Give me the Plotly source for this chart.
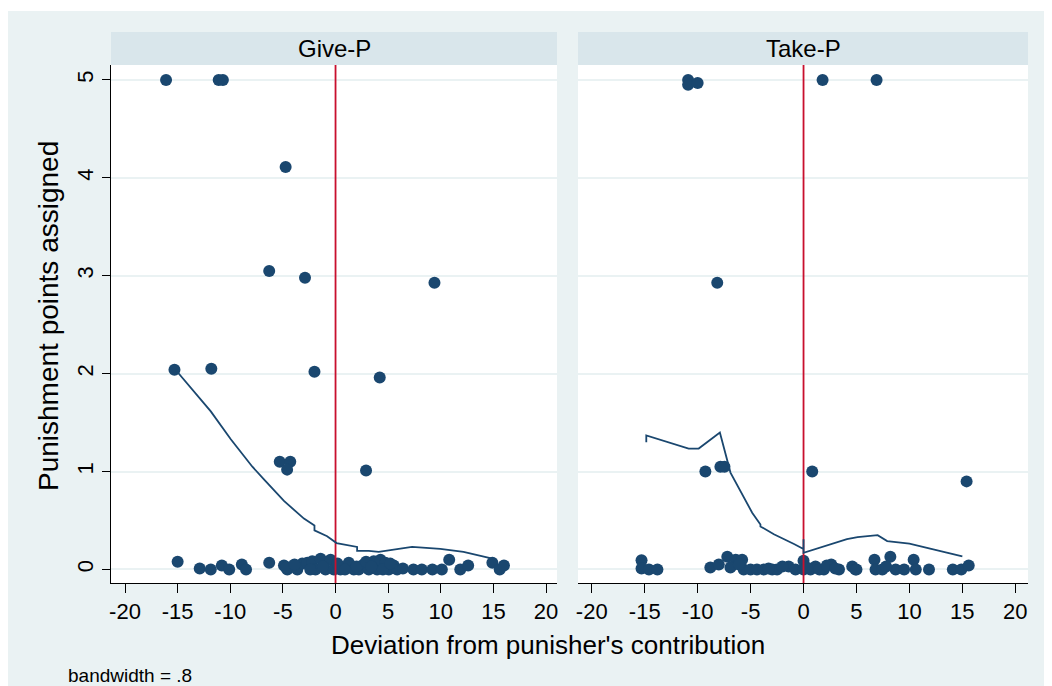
import plotly.graph_objects as go

# ---------------- data ----------------
panels = ["Give-P", "Take-P"]

give_x = [-16.1, -11.1, -10.7, -4.74, -6.3, -2.9, 9.4, -15.3, -11.8, -2.0, 4.2, -5.3, -4.3, -4.6, 2.9,
          -15.0, -12.9, -11.85, -10.8, -10.1, -8.9, -8.5, -6.3,
          -4.9, -4.58, -4.1, -3.63, -3.16, -2.68, -2.21, -1.9, -1.42, -0.95, -0.47, -0.16, 0.47, 1.26,
          1.74, 2.21, 2.68, 3.16, 3.63, 3.95, 4.27, 4.74, 5.06, 5.53, 5.85,
          -4.7, -3.9, -2.4, -1.2, 0.2, 0.9, 2.0, 2.9, 3.4, 4.5, 5.2,
          6.4, 7.4, 8.2, 9.2, 10.1, 10.8, 11.85, 12.6, 14.9, 15.6, 16.0]
give_y = [5.0, 5.0, 5.0, 4.11, 3.05, 2.98, 2.93, 2.04, 2.05, 2.02, 1.96, 1.10, 1.10, 1.02, 1.01,
          0.08, 0.01, 0.0, 0.04, 0.0, 0.05, 0.0, 0.07,
          0.04, 0.0, 0.03, 0.0, 0.06, 0.07, 0.085, 0.0, 0.11, 0.0, 0.1, 0.0, 0.0, 0.07,
          0.0, 0.0, 0.05, 0.0, 0.085, 0.0, 0.1, 0.07, 0.0, 0.04, 0.0,
          0.02, 0.05, 0.0, 0.03, 0.06, 0.0, 0.03, 0.08, 0.03, 0.0, 0.06,
          0.01, 0.0, 0.0, 0.0, 0.0, 0.1, 0.0, 0.04, 0.07, 0.0, 0.04]

take_x = [-10.9, -10.9, -10.0, 1.8, 6.9, -8.15, -9.27, -7.85, -7.47, 0.82, 15.4,
          -15.3, -15.3, -14.6, -13.8,
          -8.8, -8.0, -7.2, -6.4, -5.8, -5.65, -5.0, -4.4, -3.75, -2.96, -2.5,
          -1.4, -0.76, 0.0, 0.0, 0.66, 1.13, 1.92, 2.62, 3.35, 4.6, 4.9,
          6.7, 6.8, 7.44, 8.2, 8.7, 9.5, 10.4, 10.6, 11.85, 14.1, 14.9, 15.6,
          -6.9, -6.1, -3.3, -2.0, 0.3, 1.5, 2.2, 3.0, 5.0, 7.8]
take_y = [5.0, 4.95, 4.97, 5.0, 5.0, 2.93, 1.0, 1.05, 1.05, 1.0, 0.9,
          0.095, 0.01, 0.0, 0.0,
          0.02, 0.05, 0.13, 0.1, 0.1, 0.0, 0.0, 0.0, 0.0, 0.0, 0.0,
          0.03, 0.0, 0.09, 0.0, 0.0, 0.03, 0.0, 0.05, 0.0, 0.03, 0.0,
          0.1, 0.0, 0.0, 0.13, 0.0, 0.0, 0.1, 0.0, 0.0, 0.0, 0.0, 0.04,
          0.02, 0.05, 0.01, 0.03, 0.02, 0.0, 0.04, 0.01, 0.0, 0.03]

# lowess fits (bandwidth = .8)
give_fit_x = [-15.2, -11.85, -9.95, -7.9, -6.8, -4.9, -3.0, -2.0, -2.0, -0.8, 0.1, 2.05, 2.05,
              3.16, 4.1, 7.27, 9.95, 12.16, 14.9]
give_fit_y = [2.04, 1.615, 1.33, 1.05, 0.92, 0.70, 0.52, 0.45, 0.40, 0.34, 0.27, 0.23, 0.19,
              0.19, 0.18, 0.23, 0.21, 0.18, 0.11]

take_fit_x = [-14.85, -14.85, -10.85, -9.9, -7.9, -6.9, -4.85, -4.07, -4.07, -2.8, -0.9, 0.0,
              0.0, 0.0, 4.1, 5.1, 7.0, 7.9, 10.0, 15.0]
take_fit_y = [1.30, 1.37, 1.235, 1.235, 1.40, 0.99, 0.58, 0.46, 0.44, 0.36, 0.26, 0.21,
              0.31, 0.17, 0.31, 0.33, 0.35, 0.29, 0.265, 0.135]

x_ticks = [-20, -15, -10, -5, 0, 5, 10, 15, 20]
y_ticks = [0, 1, 2, 3, 4, 5]
XLINE = 0

# ---------------- style ----------------
NAVY = "#1A476F"
RED = "#C8102E"
BG = "#EAF2F3"
STRIP = "#D9E6EB"
FONT = "Liberation Sans, Arial, sans-serif"

W, H = 1052, 686
OFF = 8  # page offset of the figure (body margin)
# margins in figure pixels (targets measured in page pixels)
L = 111 - OFF
R = W - (1028 - OFF)
T = 32 - OFF
B = H - (583 - OFF)
PW, PH = W - L - R, H - T - B


def px_x(p):
    return (p - OFF - L) / PW


def px_y(p):
    return (H - B - (p - OFF)) / PH


YR = [-0.138, 5.153]
dom1 = [0, px_x(557)]
dom2 = [px_x(578), 1]
ydom = [0, px_y(65)]

fig = go.Figure()

sets = [(give_x, give_y, give_fit_x, give_fit_y, "x", "y"),
        (take_x, take_y, take_fit_x, take_fit_y, "x2", "y2")]
for xs, ys, fx, fy, xa, ya in sets:
    fig.add_trace(go.Scatter(x=xs, y=ys, mode="markers", xaxis=xa, yaxis=ya,
                             marker=dict(color=NAVY, size=12, line=dict(width=0)),
                             showlegend=False, cliponaxis=False))
    fig.add_trace(go.Scatter(x=[XLINE, XLINE], y=YR, mode="lines", xaxis=xa, yaxis=ya,
                             line=dict(color=RED, width=1.8), showlegend=False))
    fig.add_trace(go.Scatter(x=fx, y=fy, mode="lines", xaxis=xa, yaxis=ya,
                             line=dict(color=NAVY, width=1.8), showlegend=False))

shapes = [
    dict(type="rect", xref="paper", yref="paper", x0=px_x(0), x1=px_x(W + 20),
         y0=px_y(H + 20), y1=px_y(11), fillcolor=BG, line=dict(width=0), layer="below"),
]
for d in (dom1, dom2):
    shapes.append(dict(type="rect", xref="paper", yref="paper", x0=d[0], x1=d[1],
                       y0=ydom[0], y1=ydom[1], fillcolor="white", line=dict(width=0), layer="below"))
    shapes.append(dict(type="rect", xref="paper", yref="paper", x0=d[0], x1=d[1],
                       y0=ydom[1], y1=1, fillcolor=STRIP, line=dict(width=0), layer="below"))
fig.update_layout(shapes=shapes)

ann = []
for d, name in zip((dom1, dom2), panels):
    ann.append(dict(text=name, xref="paper", yref="paper", x=(d[0] + d[1]) / 2,
                    y=(ydom[1] + 1) / 2, showarrow=False, font=dict(size=24, color="black", family=FONT),
                    xanchor="center", yanchor="middle"))
ann.append(dict(text="Deviation from punisher's contribution", xref="paper", yref="paper",
                x=px_x(548), y=px_y(645), showarrow=False, xanchor="center", yanchor="middle",
                font=dict(size=26, color="black", family=FONT)))
ann.append(dict(text="Punishment points assigned", xref="paper", yref="paper",
                x=px_x(48), y=px_y(316), showarrow=False, xanchor="center", yanchor="middle",
                textangle=-90, font=dict(size=28, color="black", family=FONT)))
ann.append(dict(text="bandwidth = .8", xref="paper", yref="paper",
                x=px_x(66), y=px_y(675), showarrow=False, xanchor="left", yanchor="middle",
                font=dict(size=19, color="black", family=FONT)))
fig.update_layout(annotations=ann)

xcommon = dict(tickvals=x_ticks, ticktext=[str(v) for v in x_ticks], ticks="outside", ticklen=9,
               tickcolor="black", tickwidth=1, showline=True, linecolor="black", linewidth=1,
               showgrid=False, zeroline=False, tickfont=dict(size=22, color="black", family=FONT))
fig.update_layout(
    width=W, height=H,
    margin=dict(l=L, r=R, t=T, b=B, autoexpand=False),
    paper_bgcolor="white", plot_bgcolor="rgba(0,0,0,0)",
    font=dict(family=FONT, color="black"),
    xaxis=dict(domain=dom1, range=[-21.33, 21.04], anchor="y", **xcommon),
    xaxis2=dict(domain=dom2, range=[-21.3, 21.2], anchor="y2", **xcommon),
    yaxis=dict(domain=ydom, range=YR, tickvals=y_ticks, ticks="outside", ticklen=8, tickcolor="black",
               showline=True, linecolor="black", linewidth=1, showgrid=True, gridcolor=BG, gridwidth=1.5,
               zeroline=False, tickangle=-90, tickfont=dict(size=22, color="black", family=FONT),
               anchor="x"),
    yaxis2=dict(domain=ydom, range=YR, tickvals=y_ticks, ticks="", showticklabels=False,
                showline=False, showgrid=True, gridcolor=BG, gridwidth=1.5, zeroline=False,
                anchor="x2"),
)

fig.write_html("out.html")
